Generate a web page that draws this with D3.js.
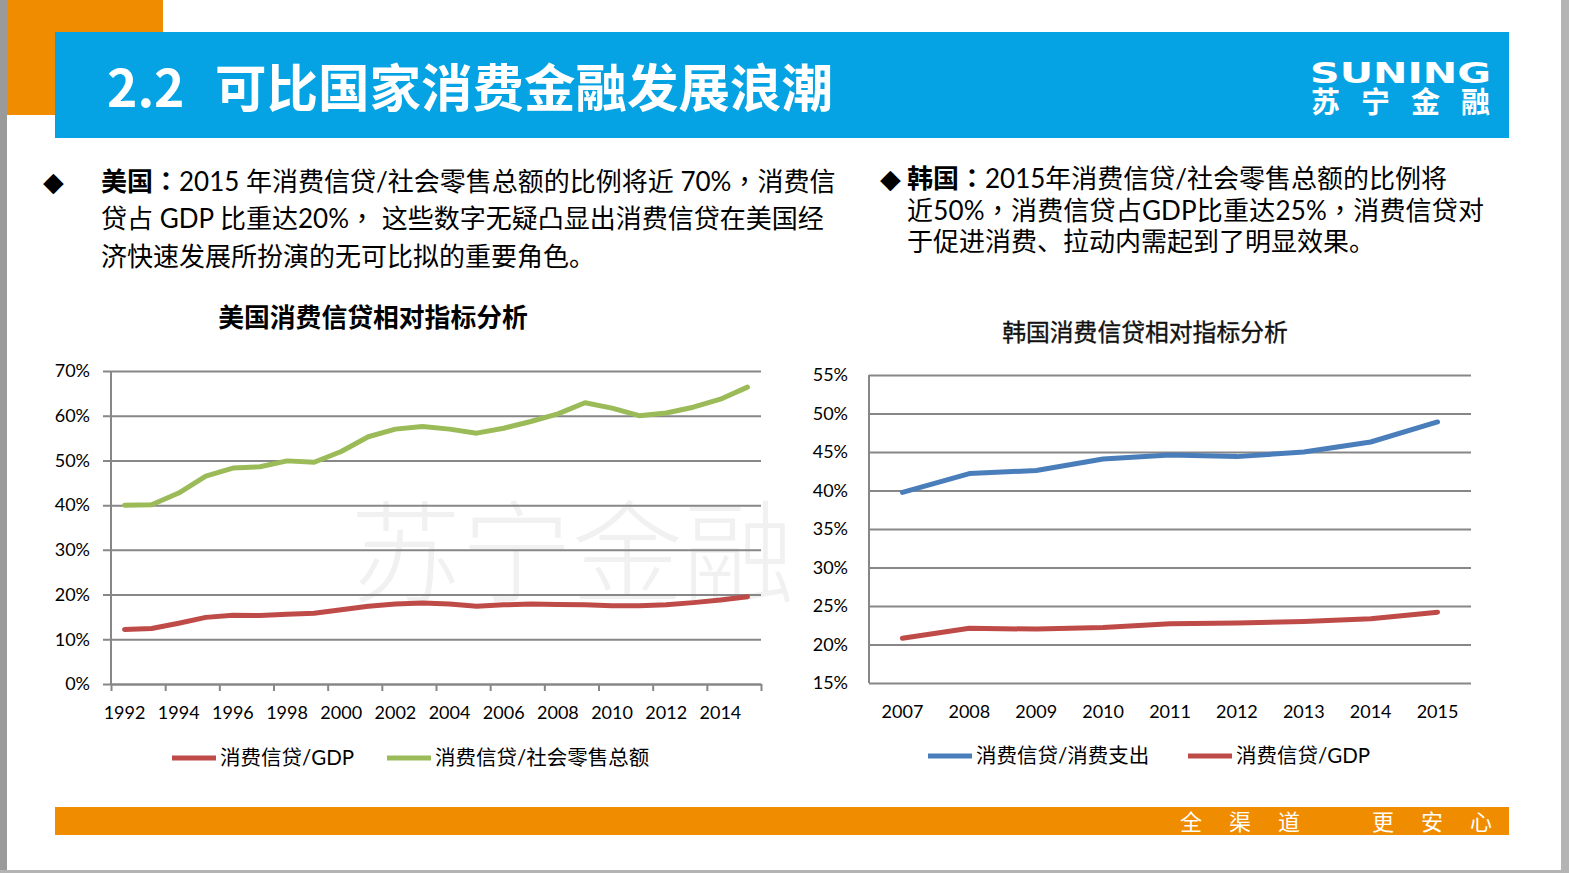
<!DOCTYPE html>
<html><head><meta charset="utf-8">
<script src="https://cdn.jsdelivr.net/npm/d3@7"></script>
<style>
html,body{margin:0;padding:0;background:#fff;}
svg{display:block;}
</style></head>
<body>
<svg id="c" width="1569" height="873"></svg>
<script>
// ---------- data ----------
const usYears = ["1992","1993","1994","1995","1996","1997","1998","1999","2000","2001","2002","2003","2004","2005","2006","2007","2008","2009","2010","2011","2012","2013","2014","2015"];
const usGDP    = [12.2,12.4,13.6,14.9,15.4,15.3,15.6,15.8,16.6,17.4,17.9,18.1,17.9,17.4,17.7,17.9,17.8,17.7,17.5,17.5,17.7,18.2,18.8,19.5];
const usRetail = [40.0,40.1,42.7,46.5,48.3,48.6,49.9,49.6,52.0,55.3,57.0,57.6,57.0,56.1,57.2,58.7,60.4,62.9,61.7,60.0,60.6,61.9,63.7,66.4];
const usXLabels = ["1992","1994","1996","1998","2000","2002","2004","2006","2008","2010","2012","2014"];
const usYTicks = [0,10,20,30,40,50,60,70];

const krYears = ["2007","2008","2009","2010","2011","2012","2013","2014","2015"];
const krSpend = [39.75,42.2,42.6,44.1,44.6,44.4,45.0,46.3,48.9];
const krGDP   = [20.8,22.1,22.0,22.2,22.7,22.8,23.0,23.35,24.2];
const krYTicks = [15,20,25,30,35,40,45,50,55];

const usSeries = [{name:"消费信贷/GDP", values:usGDP, color:"#be4b48"},
                  {name:"消费信贷/社会零售总额", values:usRetail, color:"#9bbb59"}];
const krSeries = [{name:"消费信贷/消费支出", values:krSpend, color:"#4a7ebb"},
                  {name:"消费信贷/GDP", values:krGDP, color:"#be4b48"}];

const title = ["2.2", "可比国家消费金融发展浪潮"];
const usText = ["美国：", "2015 年消费信贷/社会零售总额的比例将近 70%，消费信", "贷占 GDP 比重达20%， 这些数字无疑凸显出消费信贷在美国经", "济快速发展所扮演的无可比拟的重要角色。"];
const krText = ["韩国：", "2015年消费信贷/社会零售总额的比例将", "近50%，消费信贷占GDP比重达25%，消费信贷对", "于促进消费、拉动内需起到了明显效果。"];

// ---------- frame ----------
const svg = d3.select("#c");
const FONT = "Lato, 'Noto Sans CJK SC', sans-serif";
const CJK = "'Noto Sans CJK SC', sans-serif";
const PUNCT = "'Noto Sans CJK TC', 'Noto Sans CJK SC', sans-serif";

function addRuns(sel, str){
  str.split(/([：，])/).forEach(part=>{
    if(!part) return;
    const t = sel.append("tspan").text(part);
    if(/^[：，]$/.test(part)) t.attr("font-family",PUNCT);
  });
}

svg.append("rect").attr("x",0).attr("y",0).attr("width",7).attr("height",873).attr("fill","#9a9a9a");
svg.append("rect").attr("x",1561).attr("y",0).attr("width",8).attr("height",873).attr("fill","#b4b4b4");
svg.append("rect").attr("x",0).attr("y",870).attr("width",1569).attr("height",3).attr("fill","#b4b4b4");

svg.append("rect").attr("x",7).attr("y",0).attr("width",156).attr("height",115).attr("fill","#f08c00");
svg.append("rect").attr("x",55).attr("y",32).attr("width",1454).attr("height",106).attr("fill","#06a3e4");

const tt = svg.append("text").attr("y",107).attr("fill","#fff").attr("font-family",CJK).attr("font-weight","bold").attr("font-size",51.5);
tt.append("tspan").attr("x",107).text(title[0]);
tt.append("tspan").attr("x",215).text(title[1]);

svg.append("text").attr("x",1310).attr("y",83).attr("fill","#fff").attr("font-family","'DejaVu Sans', sans-serif")
  .attr("font-weight","bold").attr("font-size",29).attr("textLength",181).attr("lengthAdjust","spacingAndGlyphs").text("SUNING");
svg.append("text").attr("x",1311).attr("y",113).attr("fill","#fff").attr("font-family",CJK)
  .attr("font-weight","bold").attr("font-size",29).attr("textLength",179).attr("lengthAdjust","spacing").text("苏宁金融");

// footer
svg.append("rect").attr("x",55).attr("y",807).attr("width",1454).attr("height",28).attr("fill","#f08c00");
svg.append("text").attr("x",1180).attr("y",830).attr("fill","#fff").attr("font-family",CJK).attr("font-size",22)
  .attr("textLength",120).attr("lengthAdjust","spacing").text("全渠道");
svg.append("text").attr("x",1372).attr("y",830).attr("fill","#fff").attr("font-family",CJK).attr("font-size",22)
  .attr("textLength",120).attr("lengthAdjust","spacing").text("更安心");

// ---------- paragraphs ----------
svg.append("text").attr("x",43).attr("y",191).attr("font-family","'DejaVu Sans', sans-serif").attr("font-size",27).attr("fill","#000").text("◆");
const ut = svg.append("text").attr("font-family",FONT).attr("font-size",26).attr("fill","#000");
let l1 = ut.append("tspan").attr("x",101).attr("y",191);
addRuns(l1.append("tspan").attr("font-weight","bold"), usText[0]);
addRuns(l1, usText[1]);
addRuns(ut.append("tspan").attr("x",101).attr("y",228), usText[2]);
addRuns(ut.append("tspan").attr("x",101).attr("y",266), usText[3]);

svg.append("text").attr("x",880).attr("y",188).attr("font-family","'DejaVu Sans', sans-serif").attr("font-size",27).attr("fill","#000").text("◆");
const kt = svg.append("text").attr("font-family",FONT).attr("font-size",26).attr("fill","#000");
let k1 = kt.append("tspan").attr("x",907).attr("y",188);
addRuns(k1.append("tspan").attr("font-weight","bold"), krText[0]);
addRuns(k1, krText[1]);
addRuns(kt.append("tspan").attr("x",907).attr("y",220).attr("textLength",577).attr("lengthAdjust","spacing"), krText[2]);
addRuns(kt.append("tspan").attr("x",907).attr("y",251), krText[3]);

// ---------- watermark ----------
svg.append("text").attr("x",350).attr("y",594).attr("font-family",CJK).attr("font-weight",300)
  .attr("font-size",111).attr("fill","#f1f1f1").text("苏宁金融");

// ---------- helper ----------
function styleAxisText(g){
  g.selectAll("text").attr("font-family",FONT).attr("font-size",18).attr("fill","#000");
}

// ---------- US chart ----------
{
  const L=111, R=761, T=371, B=684;
  const x = d3.scaleBand().domain(usYears).range([L,R]).padding(0);
  const y = d3.scaleLinear().domain([0,70]).range([B,T]);
  const g = svg.append("g");

  svg.append("text").attr("x",373).attr("y",327).attr("text-anchor","middle").attr("font-family",CJK)
    .attr("font-weight","bold").attr("font-size",25.8).attr("fill","#000").text("美国消费信贷相对指标分析");

  const ya = g.append("g").attr("transform",`translate(${L-8},0)`)
    .call(d3.axisLeft(y).tickValues(usYTicks).tickSize(-(R-L+8)).tickPadding(13).tickFormat(d=>d+"%"));
  ya.select(".domain").remove();
  ya.selectAll("line").attr("stroke","#878787").attr("stroke-width",2);
  styleAxisText(ya);

  g.append("line").attr("x1",L).attr("x2",L).attr("y1",y(70)).attr("y2",B).attr("stroke","#878787").attr("stroke-width",2);

  const tickScale = d3.scaleLinear().domain([0,usYears.length]).range([L,R]);
  const ta = g.append("g").attr("transform",`translate(0,${B})`)
    .call(d3.axisBottom(tickScale).tickValues(d3.range(0,usYears.length+1,2)).tickSize(7).tickSizeOuter(0).tickFormat(""));
  ta.select(".domain").attr("stroke","#878787").attr("stroke-width",2);
  ta.selectAll("line").attr("stroke","#878787").attr("stroke-width",2);

  const xa = g.append("g").attr("transform",`translate(0,${B})`)
    .call(d3.axisBottom(x).tickValues(usXLabels).tickSize(0).tickPadding(22));
  xa.select(".domain").remove();
  styleAxisText(xa);

  const line = d3.line().x((d,i)=>x(usYears[i])+x.bandwidth()/2).y(d=>y(d));
  usSeries.forEach(s=>{
    g.append("path").attr("d",line(s.values)).attr("fill","none").attr("stroke",s.color)
      .attr("stroke-width",5).attr("stroke-linejoin","round").attr("stroke-linecap","round");
  });

  const legX = [172, 387];
  usSeries.forEach((s,i)=>{
    g.append("line").attr("x1",legX[i]).attr("x2",legX[i]+44).attr("y1",758).attr("y2",758).attr("stroke",s.color).attr("stroke-width",5);
    g.append("text").attr("x",legX[i]+48).attr("y",765).attr("font-family",FONT).attr("font-size",20.5).attr("fill","#000").text(s.name);
  });
}

// ---------- KR chart ----------
{
  const L=869, R=1471, T=375, B=683;
  const x = d3.scaleBand().domain(krYears).range([L,R]).padding(0);
  const y = d3.scaleLinear().domain([15,55]).range([B,T]);
  const g = svg.append("g");

  svg.append("text").attr("x",1145).attr("y",341).attr("text-anchor","middle").attr("font-family",CJK)
    .attr("font-size",23.8).attr("fill","#111").attr("stroke","#111").attr("stroke-width",0.35).text("韩国消费信贷相对指标分析");

  const ya = g.append("g").attr("transform",`translate(${L},0)`)
    .call(d3.axisLeft(y).tickValues(krYTicks).tickSize(-(R-L)).tickPadding(21).tickFormat(d=>d+"%"));
  ya.select(".domain").remove();
  ya.selectAll("line").attr("stroke","#878787").attr("stroke-width",2);
  styleAxisText(ya);

  g.append("line").attr("x1",L).attr("x2",L).attr("y1",T).attr("y2",B).attr("stroke","#878787").attr("stroke-width",2);

  const xa = g.append("g").attr("transform",`translate(0,${B})`)
    .call(d3.axisBottom(x).tickSize(0).tickPadding(22));
  xa.select(".domain").remove();
  styleAxisText(xa);

  const line = d3.line().x((d,i)=>x(krYears[i])+x.bandwidth()/2).y(d=>y(d));
  krSeries.forEach(s=>{
    g.append("path").attr("d",line(s.values)).attr("fill","none").attr("stroke",s.color)
      .attr("stroke-width",5).attr("stroke-linejoin","round").attr("stroke-linecap","round");
  });

  const legX = [928, 1188];
  krSeries.forEach((s,i)=>{
    g.append("line").attr("x1",legX[i]).attr("x2",legX[i]+44).attr("y1",756).attr("y2",756).attr("stroke",s.color).attr("stroke-width",5);
    g.append("text").attr("x",legX[i]+48).attr("y",763).attr("font-family",FONT).attr("font-size",20.5).attr("fill","#000").text(s.name);
  });
}
</script>
</body></html>
